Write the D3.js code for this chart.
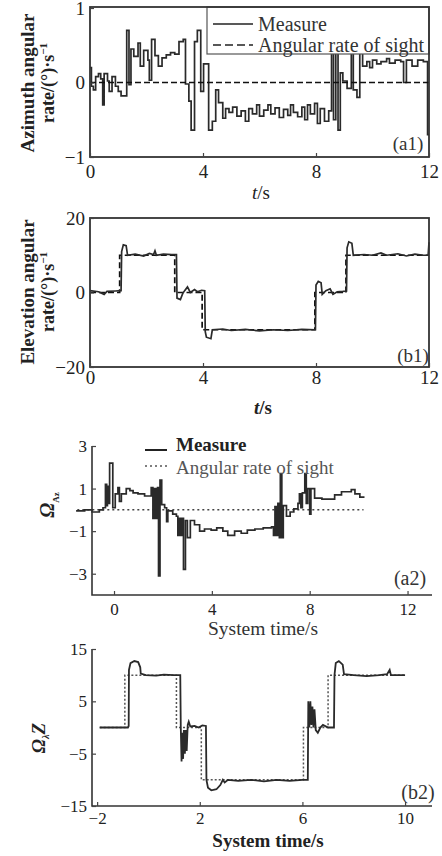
<!DOCTYPE html>
<html>
<head>
<meta charset="utf-8">
<script src="https://cdn.jsdelivr.net/npm/d3@7"></script>
<style>
  body { margin: 0; background: #fff; }
  svg { display: block; font-family: "Liberation Serif", "Times New Roman", serif; }
</style>
</head>
<body>
<svg id="chart"></svg>
<script>
// ---- data: [time, value] ----
const a1Measure = [
  [0, 0.2], [0.05, -0.05], [0.12, -0.1], [0.2, 0.08], [0.3, 0.12], [0.38, 0.05], [0.45, -0.3],
  [0.5, 0.12], [0.62, 0.02], [0.68, -0.12], [0.78, 0.08], [0.9, -0.05], [1.0, -0.12], [1.1, -0.18],
  [1.3, 0.7], [1.38, -0.03], [1.45, 0.45], [1.55, 0.35], [1.7, 0.53], [1.78, 0.22], [1.9, 0.43],
  [2.05, 0.3], [2.1, 0.03], [2.18, 0.58], [2.3, 0.36], [2.42, 0.22], [2.55, 0.33], [2.7, 0.37],
  [2.85, 0.4], [3.0, 0.38], [3.15, 0.55], [3.3, 0.58], [3.38, -0.02], [3.5, -0.25], [3.58, -0.64],
  [3.7, 0.55], [3.8, 0.7], [3.92, -0.12], [4.02, 0.25], [4.2, -0.64], [4.33, -0.52], [4.45, -0.1],
  [4.55, -0.27], [4.7, -0.48], [4.8, -0.35], [4.92, -0.4], [5.05, -0.33], [5.2, -0.45], [5.35, -0.38],
  [5.5, -0.52], [5.62, -0.35], [5.75, -0.42], [5.9, -0.3], [6.0, -0.45], [6.15, -0.37], [6.3, -0.3],
  [6.4, -0.42], [6.55, -0.34], [6.7, -0.47], [6.85, -0.36], [7.0, -0.44], [7.1, -0.3], [7.2, -0.4],
  [7.35, -0.46], [7.5, -0.33], [7.6, -0.5], [7.7, -0.3], [7.8, -0.42], [7.95, -0.28], [8.05, -0.55],
  [8.15, -0.35], [8.3, -0.52], [8.45, -0.38], [8.55, 0.9], [8.62, -0.5], [8.7, 0.9], [8.78, -0.64],
  [8.86, 0.13], [8.95, 0.02], [9.1, -0.08], [9.25, 0.85], [9.32, -0.1], [9.45, -0.2], [9.55, 0.9],
  [9.65, 0.22], [9.8, 0.28], [9.9, 0.2], [10.0, 0.3], [10.15, 0.25], [10.3, 0.28], [10.5, 0.32],
  [10.6, 0.26], [10.8, 0.3], [11.0, 0.28], [11.1, 0.0], [11.2, 0.3], [11.4, 0.22], [11.6, 0.3],
  [11.8, 0.28], [11.95, -0.7], [12, -0.7]
];
const a1Sight = [[0, 0], [12, 0]];

const b1Measure = [
  [0, 0.5], [0.3, 0.2], [0.5, -0.5], [0.6, 0.3], [0.9, 0.4], [1.1, 0.5], [1.12, 11], [1.18, 12.8],
  [1.28, 12.6], [1.33, 10], [1.6, 10.3], [1.9, 9.8], [2.1, 10.5], [2.25, 10.2], [2.3, 11.2],
  [2.35, 10], [2.6, 10.3], [2.9, 10.2], [3.06, 10.2], [3.08, -1.5], [3.2, -1.9], [3.28, -0.3],
  [3.35, 0.5], [3.45, 1.5], [3.55, 0], [3.7, 0.8], [3.8, 0.2], [3.95, 0.6], [4.06, 0.5],
  [4.08, -10.5], [4.12, -12], [4.28, -12.4], [4.33, -10], [4.7, -9.8], [5.0, -10.2], [5.5, -9.9],
  [6.0, -10.3], [6.5, -10], [7.0, -10.2], [7.5, -9.9], [7.98, -10], [8.0, 2], [8.08, 3], [8.18, 2.6],
  [8.22, -0.5], [8.35, 0.5], [8.5, 1], [8.6, -0.5], [8.75, 0.2], [8.95, 0.3], [9.08, 0.4],
  [9.1, 12], [9.16, 13.6], [9.27, 13.2], [9.32, 10], [9.7, 10.2], [10.0, 10], [10.3, 10.6],
  [10.5, 10], [10.9, 10.4], [11.2, 9.8], [11.5, 10.3], [11.8, 10], [11.97, 10], [12, 13.5]
];
const b1Sight = [[0, 0], [1.05, 10], [3.0, 0], [3.97, -10], [7.96, 0], [9.06, 10], [12, 10]];

const a2Measure = [
  [-1.55, -0.05], [-1.2, 0.0], [-0.9, -0.1], [-0.6, 0.0], [-0.45, 0.1], [-0.35, 1.2], [-0.3, 0.2],
  [-0.27, 1.1], [-0.22, 0.3], [-0.18, 2.2], [-0.05, 0.1], [0.05, 0.75], [0.16, 1.05], [0.22, 0.4],
  [0.3, 0.75], [0.5, 1.0], [0.65, 0.9], [0.78, 0.8], [0.98, 0.75], [1.25, 0.65], [1.52, 1.05],
  [1.59, -0.4], [1.66, 1.0], [1.73, -0.4], [1.78, 1.05], [1.82, -3.1], [1.88, 1.4], [1.95, 0.25],
  [2.07, 0.1], [2.15, -0.55], [2.2, -0.05], [2.4, -0.2], [2.55, -0.3], [2.61, -1.2], [2.66, -0.4],
  [2.72, -1.2], [2.78, -0.4], [2.84, -2.8], [2.92, -0.5], [3.0, -1.3], [3.12, -0.5], [3.29, -0.7],
  [3.5, -1.0], [3.7, -0.9], [3.97, -0.95], [4.2, -0.85], [4.45, -1.0], [4.65, -1.2], [4.93, -1.0],
  [5.2, -1.1], [5.45, -0.95], [5.76, -0.9], [6.1, -0.85], [6.44, -0.8], [6.52, -1.2], [6.58, 0.15],
  [6.64, -1.2], [6.7, 0.3], [6.76, -1.3], [6.8, 1.7], [6.86, -1.3], [6.92, 0.2], [7.05, -0.3],
  [7.2, -0.1], [7.35, 0.05], [7.52, 0.3], [7.58, 0.75], [7.64, 0.1], [7.7, 0.8], [7.8, 1.7],
  [7.86, 0.3], [7.92, 1.0], [8.0, -0.2], [8.05, 1.0], [8.2, 0.55], [8.5, 0.5], [9.02, 0.7],
  [9.3, 0.85], [9.7, 0.95], [9.85, 0.75], [10.05, 0.6], [10.24, 0.6]
];
const a2Sight = [[-1.5, 0], [10.2, 0]];

const b2Measure = [
  [-1.9, 0], [-0.8, 0], [-0.77, 0.3], [-0.76, 11], [-0.7, 12.3], [-0.55, 12.7], [-0.4, 12.5],
  [-0.32, 11.5], [-0.3, 10.3], [-0.1, 10], [0.3, 9.9], [0.6, 10.1], [1.0, 10], [1.24, 10],
  [1.26, 0], [1.29, -6.5], [1.32, -1], [1.35, -6], [1.38, -0.5], [1.42, -5], [1.45, -0.5],
  [1.49, -4.5], [1.53, 0.5], [1.57, 1.1], [1.63, 0.2], [1.8, 0.3], [1.95, 0], [2.1, 0.4],
  [2.24, 0.3], [2.26, -10], [2.32, -11.5], [2.45, -12], [2.65, -11.8], [2.8, -11], [2.9, -10],
  [2.97, -10.5], [3.1, -10], [3.5, -10.2], [4.0, -10], [4.5, -10.3], [5.0, -10], [5.5, -10.2],
  [6.0, -10], [6.21, -10], [6.23, 5], [6.27, 0], [6.31, 5], [6.35, 0.5], [6.39, 4], [6.43, 0],
  [6.47, 3.5], [6.52, -0.5], [6.6, -1], [6.7, 0], [6.8, 0.5], [7.0, 0], [7.23, 0], [7.25, 10],
  [7.3, 12.3], [7.42, 12.7], [7.57, 12], [7.62, 10.2], [8.0, 10], [8.5, 9.8], [9.0, 10],
  [9.3, 10.2], [9.4, 11], [9.45, 10], [10.0, 10]
];
const b2Sight = [[-1.9, 0], [-0.92, 10], [1.09, 0], [2.06, -10], [6.04, 0], [7.0, 10], [10.0, 10]];

const a1Ticks = { x: [0, 4, 8, 12], y: [-1, 0, 1] };
const b1Ticks = { x: [0, 4, 8, 12], y: [-20, 0, 20] };
const a2Ticks = { x: [0, 4, 8, 12], y: [3, 1, -1, -3] };
const b2Ticks = { x: [-2, 2, 6, 10], y: [15, 5, -5, -15] };

const legendLabels = ["Measure", "Angular rate of sight"];

// ---- layout ----
const ctx = { width: 442, height: 856, ink: "#222", font: "Liberation Serif" };

const svg = d3.select("#chart")
  .attr("width", ctx.width)
  .attr("height", ctx.height);

const line = (x, y, curve) => d3.line()
  .x(d => x(d[0]))
  .y(d => y(d[1]))
  .curve(curve);

function tickAxes(g, x, y, ticks, xPad, yPad, size) {
  const fmt = d3.format("d");
  const xa = g.append("g")
    .attr("transform", `translate(0,${y.range()[0]})`)
    .call(d3.axisBottom(x).tickValues(ticks.x).tickFormat(fmt)
      .tickSizeInner(-4).tickSizeOuter(0).tickPadding(xPad));
  const ya = g.append("g")
    .attr("transform", `translate(${x.range()[0]},0)`)
    .call(d3.axisLeft(y).tickValues(ticks.y).tickFormat(fmt)
      .tickSizeInner(-4).tickSizeOuter(0).tickPadding(yPad));
  [xa, ya].forEach(a => {
    a.attr("font-family", ctx.font).attr("font-size", size);
    a.select(".domain").remove();
    a.selectAll("line").attr("stroke", "#444").attr("stroke-width", 1.2);
    a.selectAll("text").attr("fill", ctx.ink);
  });
}

// ---------- panel a1 ----------
{
  const x = d3.scaleLinear().domain([0, 12]).range([90, 429]);
  const y = d3.scaleLinear().domain([-1, 1]).range([157, 8]);
  const g = svg.append("g");

  g.append("path").datum(a1Measure)
    .attr("d", line(x, y, d3.curveStepAfter))
    .attr("fill", "none").attr("stroke", "#2a2a2a").attr("stroke-width", 1.7);
  g.append("path").datum(a1Sight)
    .attr("d", line(x, y, d3.curveLinear))
    .attr("fill", "none").attr("stroke", "#111").attr("stroke-width", 1.6)
    .attr("stroke-dasharray", "6,3");

  // legend box
  g.append("rect").attr("x", 207).attr("y", 7).attr("width", 222).attr("height", 47)
    .attr("fill", "#fff").attr("stroke", "#555").attr("stroke-width", 1.2);
  g.append("line").attr("x1", 213).attr("x2", 253).attr("y1", 24).attr("y2", 24)
    .attr("stroke", "#222").attr("stroke-width", 1.6);
  g.append("line").attr("x1", 213).attr("x2", 253).attr("y1", 45).attr("y2", 45)
    .attr("stroke", "#222").attr("stroke-width", 1.6).attr("stroke-dasharray", "8,4");
  g.selectAll("text.leg").data(legendLabels).enter().append("text")
    .attr("class", "leg")
    .attr("x", 258).attr("y", (d, i) => 24 + i * 21).attr("dy", "0.35em")
    .style("font-size", "20px").attr("fill", "#333").text(d => d);

  g.append("rect").attr("x", 90).attr("y", 7).attr("width", 339).attr("height", 150)
    .attr("fill", "none").attr("stroke", "#333").attr("stroke-width", 1.8);

  tickAxes(g, x, y, a1Ticks, 8, 5, 19);

  g.append("text").attr("x", 408).attr("y", 143).attr("dy", "0.35em").attr("text-anchor", "middle")
    .style("font-size", "19px").attr("fill", "#333").text("(a1)");
  g.append("text").attr("x", 261).attr("y", 199).attr("text-anchor", "middle")
    .style("font-size", "19px").attr("fill", ctx.ink)
    .html('<tspan font-style="italic">t</tspan>/s');

  g.append("text").attr("transform", "translate(27,83) rotate(-90)").attr("text-anchor", "middle")
    .attr("dy", "0.35em").style("font-size", "19px").style("font-weight", "bold").attr("fill", ctx.ink)
    .text("Azimuth angular");
  g.append("text").attr("transform", "translate(48,83) rotate(-90)").attr("text-anchor", "middle")
    .attr("dy", "0.35em").style("font-size", "18px").style("font-weight", "bold").attr("fill", ctx.ink)
    .html('rate/(°)·s<tspan dy="-7" font-size="11px">−1</tspan>');
}

// ---------- panel b1 ----------
{
  const x = d3.scaleLinear().domain([0, 12]).range([90, 429]);
  const y = d3.scaleLinear().domain([-20, 20]).range([367, 218]);
  const g = svg.append("g");

  g.append("path").datum(b1Sight)
    .attr("d", line(x, y, d3.curveStepAfter))
    .attr("fill", "none").attr("stroke", "#111").attr("stroke-width", 1.7)
    .attr("stroke-dasharray", "6,3");
  g.append("path").datum(b1Measure)
    .attr("d", line(x, y, d3.curveLinear))
    .attr("fill", "none").attr("stroke", "#2a2a2a").attr("stroke-width", 1.7);

  g.append("rect").attr("x", 90).attr("y", 218).attr("width", 339).attr("height", 149)
    .attr("fill", "none").attr("stroke", "#333").attr("stroke-width", 1.8);

  tickAxes(g, x, y, b1Ticks, 4, 5, 19);

  g.append("text").attr("x", 413).attr("y", 355).attr("dy", "0.35em").attr("text-anchor", "middle")
    .style("font-size", "19px").attr("fill", "#333").text("(b1)");
  g.append("text").attr("x", 263).attr("y", 414).attr("text-anchor", "middle")
    .style("font-size", "19px").style("font-weight", "bold").attr("fill", ctx.ink)
    .html('<tspan font-style="italic">t</tspan>/s');

  g.append("text").attr("transform", "translate(27,292) rotate(-90)").attr("text-anchor", "middle")
    .attr("dy", "0.35em").style("font-size", "19px").style("font-weight", "bold").attr("fill", ctx.ink)
    .text("Elevation angular");
  g.append("text").attr("transform", "translate(48,292) rotate(-90)").attr("text-anchor", "middle")
    .attr("dy", "0.35em").style("font-size", "18px").style("font-weight", "bold").attr("fill", ctx.ink)
    .html('rate/(°)·s<tspan dy="-7" font-size="11px">−1</tspan>');
}

// ---------- panel a2 ----------
{
  const x = d3.scaleLinear().domain([-0.9, 13]).range([92, 432]);
  const y = d3.scaleLinear().domain([-4, 3]).range([595, 446]);
  const g = svg.append("g");

  g.append("path").datum(a2Sight)
    .attr("d", line(x, y, d3.curveLinear))
    .attr("fill", "none").attr("stroke", "#444").attr("stroke-width", 1.5)
    .attr("stroke-dasharray", "2,3");
  g.append("path").datum(a2Measure)
    .attr("d", line(x, y, d3.curveStepAfter))
    .attr("fill", "none").attr("stroke", "#2a2a2a").attr("stroke-width", 1.7);

  g.append("path")
    .attr("d", `M92,${y(3)}V595H432`)
    .attr("fill", "none").attr("stroke", "#333").attr("stroke-width", 1.6);

  tickAxes(g, x, y, a2Ticks, 8, 5, 17);

  // legend
  g.append("line").attr("x1", 145).attr("x2", 167).attr("y1", 450).attr("y2", 450)
    .attr("stroke", "#222").attr("stroke-width", 2);
  g.append("line").attr("x1", 145).attr("x2", 167).attr("y1", 466).attr("y2", 466)
    .attr("stroke", "#555").attr("stroke-width", 1.4).attr("stroke-dasharray", "2,3");
  g.selectAll("text.leg").data(legendLabels).enter().append("text")
    .attr("class", "leg")
    .attr("x", 176).attr("y", (d, i) => 444 + i * 23).attr("dy", "0.35em")
    .style("font-size", "19px")
    .style("font-weight", (d, i) => i === 0 ? "bold" : "normal")
    .attr("fill", (d, i) => i === 0 ? "#222" : "#555").text(d => d);

  g.append("text").attr("x", 410).attr("y", 578).attr("dy", "0.35em").attr("text-anchor", "middle")
    .style("font-size", "20px").attr("fill", "#333").text("(a2)");
  g.append("text").attr("x", 263).attr("y", 635).attr("text-anchor", "middle")
    .style("font-size", "19.5px").attr("fill", "#333").text("System time/s");

  g.append("text").attr("transform", "translate(47,505) rotate(-90)").attr("text-anchor", "middle")
    .attr("dy", "0.35em").style("font-size", "20px").style("font-weight", "bold").attr("fill", ctx.ink)
    .html('<tspan font-style="italic">Ω</tspan><tspan dy="5" font-size="9px">Az</tspan>');
}

// ---------- panel b2 ----------
{
  const x = d3.scaleLinear().domain([-2.2, 11.05]).range([92, 432]);
  const y = d3.scaleLinear().domain([-15, 15]).range([806, 649]);
  const g = svg.append("g");

  g.append("path").datum(b2Sight)
    .attr("d", line(x, y, d3.curveStepAfter))
    .attr("fill", "none").attr("stroke", "#555").attr("stroke-width", 1.5)
    .attr("stroke-dasharray", "2,2");
  g.append("path").datum(b2Measure)
    .attr("d", line(x, y, d3.curveLinear))
    .attr("fill", "none").attr("stroke", "#2a2a2a").attr("stroke-width", 1.8);

  g.append("path")
    .attr("d", "M92,649V806H432")
    .attr("fill", "none").attr("stroke", "#333").attr("stroke-width", 1.6);

  tickAxes(g, x, y, b2Ticks, 6, 5, 17);

  g.append("text").attr("x", 418).attr("y", 792).attr("dy", "0.35em").attr("text-anchor", "middle")
    .style("font-size", "20px").attr("fill", "#333").text("(b2)");
  g.append("text").attr("x", 268).attr("y", 847).attr("text-anchor", "middle")
    .style("font-size", "19px").style("font-weight", "bold").attr("fill", ctx.ink).text("System time/s");

  g.append("text").attr("transform", "translate(38,738) rotate(-90)").attr("text-anchor", "middle")
    .attr("dy", "0.35em").style("font-size", "19px").style("font-weight", "bold").attr("fill", ctx.ink)
    .html('<tspan font-style="italic">Ω</tspan><tspan dy="4" font-size="10px" font-style="italic">λ</tspan><tspan dy="-4" font-style="italic">Z</tspan>');
}
</script>
</body>
</html>
